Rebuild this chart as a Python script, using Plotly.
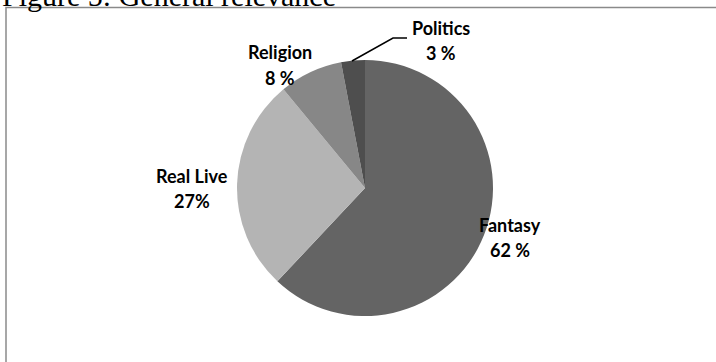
import plotly.graph_objects as go

# Data
categories = ["Fantasy", "Real Live", "Religion", "Politics"]
values = [62, 27, 8, 3]
label_line1 = ["Fantasy", "Real Live", "Religion", "Politics"]
label_line2 = ["62 %", "27%", "8 %", "3 %"]
colors = ["#646464", "#b4b4b4", "#878787", "#4e4e4e"]

W, H = 716, 362


def px(x):  # page pixel x -> paper
    return x / W


def py(y):  # page pixel y -> paper
    return (H - y) / H


cx, cy, r = 365, 188, 128  # pie centre/radius in page pixels

fig = go.Figure(go.Pie(
    labels=categories,
    values=values,
    sort=False,
    direction="clockwise",
    rotation=0,
    marker=dict(colors=colors, line=dict(width=0)),
    textinfo="none",
    hoverinfo="label+percent",
    showlegend=False,
    domain=dict(x=[px(cx - r), px(cx + r)],
                y=[py(cy + r), py(cy - r)]),
))

# label line centres in page pixels: (x, y line1, y line2)
label_pos = [(510, 224.5, 250), (192, 175.5, 200.5), (280, 51.5, 77.5), (441, 28.5, 53)]
annotations = []
for t1, t2, (x, y1, y2) in zip(label_line1, label_line2, label_pos):
    for t, y in ((t1, y1), (t2, y2)):
        annotations.append(dict(
            x=px(x), y=py(y), xref="paper", yref="paper",
            text=t, showarrow=False, xanchor="center", yanchor="middle",
            font=dict(family="Lato", size=18, color="#000000", weight="bold"),
        ))

# title (partially cut at the top of the view)
annotations.append(dict(
    x=px(0), y=py(14.5), xref="paper", yref="paper",
    text="Figure 5: General relevance", showarrow=False,
    xanchor="left", yanchor="bottom",
    font=dict(family="Liberation Serif", size=30, color="#000000"),
))

shapes = [
    # chart frame (extends beyond the right and bottom of the view)
    dict(type="rect", xref="paper", yref="paper",
         x0=px(6), x1=1.2, y0=-0.2, y1=py(7.5),
         line=dict(color="#8a8a8a", width=1.5), fillcolor="rgba(0,0,0,0)", layer="below"),
    # leader line for Politics
    dict(type="path", xref="paper", yref="paper",
         path=f"M {px(352)},{py(61)} L {px(393)},{py(38)} L {px(407)},{py(38)}",
         line=dict(color="#000000", width=1.5)),
]

fig.update_layout(
    width=W, height=H,
    margin=dict(l=0, r=0, t=0, b=0),
    paper_bgcolor="white",
    plot_bgcolor="white",
    annotations=annotations,
    shapes=shapes,
)

fig.write_html("out.html", config={"displayModeBar": False},
               post_script="document.body.style.margin='0px';")
